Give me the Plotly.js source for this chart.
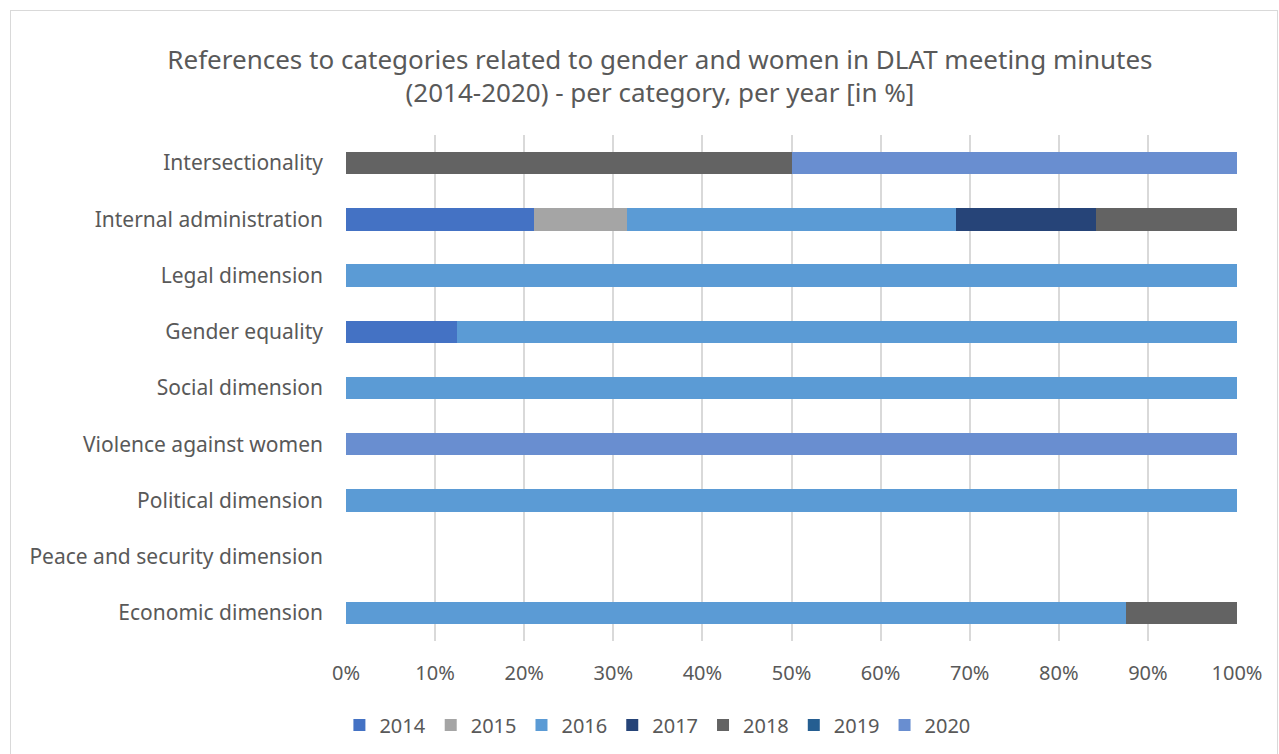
<!DOCTYPE html>
<html>
<head>
<meta charset="utf-8">
<script src="https://cdn.plot.ly/plotly-3.0.1.min.js"></script>
<style>
html,body{margin:0;padding:0;background:#fff;}
#wrap{position:relative;width:1279px;height:754px;}
#chart{width:1279px;height:754px;}
#frame{position:absolute;left:10px;top:10px;width:1268px;height:750px;border:1px solid #d9d9d9;pointer-events:none;box-sizing:border-box;}
</style>
</head>
<body>
<div id="wrap"><div id="chart"></div><div id="frame"></div></div>
<script>
// Categories, top to bottom
const categories = [
  "Intersectionality",
  "Internal administration",
  "Legal dimension",
  "Gender equality",
  "Social dimension",
  "Violence against women",
  "Political dimension",
  "Peace and security dimension",
  "Economic dimension"
];
const years = ["2014","2015","2016","2017","2018","2019","2020"];
// Shares in %, same order as categories
const v2014 = [0, 21.05, 0, 12.5, 0, 0, 0, 0, 0];
const v2015 = [0, 10.53, 0, 0, 0, 0, 0, 0, 0];
const v2016 = [0, 36.84, 100, 87.5, 100, 0, 100, 0, 87.5];
const v2017 = [0, 15.79, 0, 0, 0, 0, 0, 0, 0];
const v2018 = [50, 15.79, 0, 0, 0, 0, 0, 0, 12.5];
const v2019 = [0, 0, 0, 0, 0, 0, 0, 0, 0];
const v2020 = [50, 0, 0, 0, 0, 100, 0, 0, 0];
const seriesValues = [v2014, v2015, v2016, v2017, v2018, v2019, v2020];
const colors = ["#4472C4","#A5A5A5","#5B9BD5","#264478","#636363","#255E91","#698ED0"];
const xTicks = [0,10,20,30,40,50,60,70,80,90,100];

const font = "Noto Sans, sans-serif";
const textColor = "#595959";

const traces = years.map((y, i) => ({
  type: "bar",
  orientation: "h",
  name: y,
  y: categories,
  x: seriesValues[i],
  marker: {color: colors[i], line: {width: 0}},
  hoverinfo: "name+x"
}));

const layout = {
  width: 1279, height: 754,
  paper_bgcolor: "#fff", plot_bgcolor: "#fff",
  barmode: "stack",
  bargap: 0.6,
  margin: {l: 346, r: 42, t: 135, b: 113},
  title: {
    text: "References to categories related to gender and women in DLAT meeting minutes<br>(2014-2020) - per category, per year [in %]",
    font: {family: font, size: 26, color: textColor},
    x: 0.516, xanchor: "center", y: 0.909, yanchor: "top"
  },
  xaxis: {
    range: [0, 100],
    tickvals: xTicks,
    ticktext: xTicks.map(t => t + "%"),
    showgrid: true, gridcolor: "#d9d9d9", gridwidth: 2,
    zeroline: false, showline: false,
    tickfont: {family: font, size: 20, color: textColor},
    ticklabelstandoff: 18,
    fixedrange: true
  },
  yaxis: {
    autorange: "reversed",
    type: "category",
    showgrid: false, zeroline: false, showline: false,
    tickfont: {family: font, size: 21, color: textColor},
    ticklabelstandoff: 22,
    fixedrange: true
  },
  showlegend: true,
  legend: {
    orientation: "h",
    xref: "container",
    x: 0.514, xanchor: "center",
    yref: "container",
    y: 0.0385, yanchor: "middle",
    font: {family: font, size: 20, color: textColor},
    traceorder: "normal",
    itemwidth: 30
  }
};

Plotly.newPlot("chart", traces, layout, {displayModeBar: false, staticPlot: true});
</script>
</body>
</html>
